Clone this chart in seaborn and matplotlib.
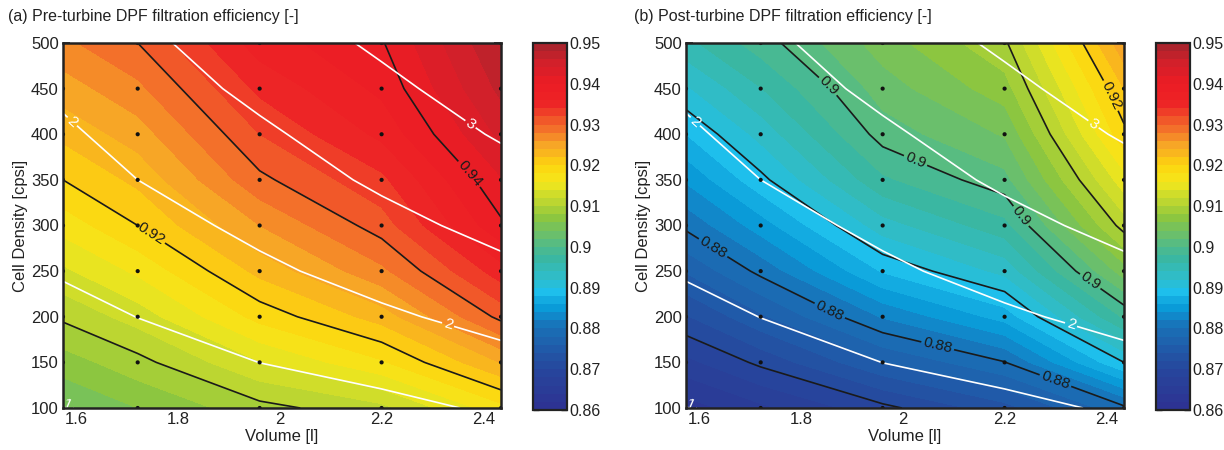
import numpy as np
import pandas as pd
import matplotlib
matplotlib.use("Agg")
import matplotlib.pyplot as plt
import seaborn as sns
from matplotlib.colors import LinearSegmentedColormap

# ---------------- data ----------------
volume = [1.573, 1.72, 1.96, 2.2, 2.435]                    # [l]
cell_density = [100, 150, 200, 250, 300, 350, 400, 450, 500]  # [cpsi]

# rows: cell density (100 -> 500), columns: volume
eff_pre = [
    [0.9040, 0.9060, 0.9093, 0.9114, 0.9173],
    [0.9070, 0.9093, 0.9139, 0.9177, 0.9241],
    [0.9104, 0.9129, 0.9187, 0.9229, 0.9306],
    [0.9136, 0.9164, 0.9226, 0.9275, 0.9351],
    [0.9168, 0.9200, 0.9260, 0.9310, 0.9396],
    [0.9200, 0.9225, 0.9295, 0.9335, 0.9418],
    [0.9225, 0.9250, 0.9320, 0.9365, 0.9445],
    [0.9250, 0.9275, 0.9345, 0.9385, 0.9465],
    [0.9275, 0.9300, 0.9370, 0.9398, 0.9480],
]
eff_post = [
    [0.8630, 0.8655, 0.8694, 0.8732, 0.8795],
    [0.8674, 0.8705, 0.8759, 0.8799, 0.8900],
    [0.8718, 0.8756, 0.8822, 0.8868, 0.8983],
    [0.8762, 0.8806, 0.8882, 0.8926, 0.9050],
    [0.8805, 0.8850, 0.8931, 0.8973, 0.9109],
    [0.8843, 0.8894, 0.8976, 0.9013, 0.9152],
    [0.8880, 0.8927, 0.9009, 0.9042, 0.9194],
    [0.8917, 0.8959, 0.9030, 0.9071, 0.9220],
    [0.8954, 0.8990, 0.9050, 0.9096, 0.9255],
]
# second quantity drawn as white iso-lines (same in both panels)
overlay_values = [
    [0.98, 1.12, 1.30, 1.385, 1.56],
    [1.18, 1.31, 1.502, 1.66, 1.87],
    [1.36, 1.505, 1.71, 1.93, 2.14],
    [1.54, 1.67, 1.92, 2.16, 2.40],
    [1.67, 1.83, 2.10, 2.37, 2.63],
    [1.80, 2.00, 2.27, 2.57, 2.84],
    [1.94, 2.13, 2.43, 2.74, 3.04],
    [2.07, 2.27, 2.60, 2.90, 3.22],
    [2.20, 2.40, 2.75, 3.07, 3.40],
]
overlay_plain = [1.5, 2.5]
overlay_labeled = [1.0, 2.0, 3.0]

pre_plain = [0.91, 0.93]
pre_labeled = [0.92, 0.94]
post_plain = [0.87, 0.89, 0.91]
post_labeled = [0.88, 0.90, 0.92]

cbar_ticks = [0.86, 0.87, 0.88, 0.89, 0.90, 0.91, 0.92, 0.93, 0.94, 0.95]
titles = ["(a) Pre-turbine DPF filtration efficiency [-]",
          "(b) Post-turbine DPF filtration efficiency [-]"]

# ---------------- style ----------------
sns.set_theme(style="ticks")
plt.rcParams["font.family"] = ["Liberation Sans", "DejaVu Sans"]
plt.rcParams["xtick.direction"] = "in"
plt.rcParams["ytick.direction"] = "in"

anchors = [
    (0.860, "#2e3192"), (0.870, "#26479d"), (0.880, "#1a6fb5"),
    (0.885, "#0a9ad8"), (0.889, "#1ec0ec"), (0.893, "#31bcc4"),
    (0.897, "#3ab7a2"), (0.902, "#60bd78"), (0.907, "#8dc63f"),
    (0.912, "#c5d92e"), (0.916, "#f4e81c"), (0.920, "#fdd40f"),
    (0.925, "#f7a526"), (0.929, "#f3722a"), (0.932, "#f04a29"),
    (0.935, "#ed2526"), (0.9405, "#ec1c24"), (0.945, "#d3202a"),
    (0.950, "#a5242c"),
]
vmin, vmax = 0.86, 0.95
cmap = LinearSegmentedColormap.from_list(
    "dpf", [((v - vmin) / (vmax - vmin), c) for v, c in anchors])
fill_levels = np.linspace(vmin, vmax, 46)

fig = plt.figure(figsize=(12.24, 4.5), dpi=100)

X, Y = np.meshgrid(volume, cell_density)
pts = pd.DataFrame({"Volume": X.ravel(), "Cell": Y.ravel()})


def px(x0, y0, x1, y1):
    return [x0 / 1224, 1 - y1 / 450, (x1 - x0) / 1224, (y1 - y0) / 450]


# label anchor points (snapped onto the nearest contour by clabel)
pre_black_lab = [(1.745, 290), (2.36, 350)]
post_black_lab = [(1.62, 270), (1.85, 200), (2.07, 172), (2.30, 130),
                  (1.84, 445), (2.02, 365), (2.22, 305), (2.37, 240),
                  (2.40, 440)]
white_lab = [(1.585, 410), (2.33, 190), (2.37, 407), (1.58, 101)]

panels = [
    (eff_pre, pre_plain, pre_labeled, pre_black_lab,
     px(63, 43, 501, 408), px(533, 43, 567, 410), 8),
    (eff_post, post_plain, post_labeled, post_black_lab,
     px(686, 43, 1124, 408), px(1156, 43, 1190, 410), 634),
]
fmt = lambda v: f"{v:g}"

for (Z, plain, lab, lab_pos, axpos, cpos, tx), title in zip(panels, titles):
    Z = np.array(Z)
    Wv = np.array(overlay_values)
    ax = fig.add_axes(axpos)
    cax = fig.add_axes(cpos)
    cf = ax.contourf(X, Y, Z, levels=fill_levels, cmap=cmap, vmin=vmin, vmax=vmax)
    ax.contour(X, Y, Z, levels=plain, colors="#1a1a1a", linewidths=1.2)
    cs = ax.contour(X, Y, Z, levels=lab, colors="#1a1a1a", linewidths=1.2)
    ax.clabel(cs, fmt=fmt, fontsize=11, inline=True, inline_spacing=2,
              manual=lab_pos)
    ax.contour(X, Y, Wv, levels=overlay_plain, colors="white", linewidths=1.2)
    ws = ax.contour(X, Y, Wv, levels=overlay_labeled, colors="white",
                    linewidths=1.2)
    ax.clabel(ws, fmt=fmt, fontsize=11, inline=True, inline_spacing=2,
              colors="white", manual=white_lab)
    sns.scatterplot(data=pts, x="Volume", y="Cell", ax=ax, color="#111111",
                    s=9, edgecolor="none", legend=False, zorder=5)
    ax.set_xlim(volume[0], volume[-1])
    ax.set_ylim(cell_density[0], cell_density[-1])
    ax.set_xticks([1.6, 1.8, 2.0, 2.2, 2.4])
    ax.set_xticklabels(["1.6", "1.8", "2", "2.2", "2.4"])
    ax.set_yticks(cell_density)
    ax.tick_params(direction="in", top=True, right=True, length=5, width=1.2,
                   labelsize=12, colors="#222222", pad=3)
    ax.set_xlabel("Volume [l]", fontsize=12, labelpad=1, color="#222222")
    ax.set_ylabel("Cell Density [cpsi]", fontsize=12, labelpad=2, color="#222222")
    for s in ax.spines.values():
        s.set_linewidth(1.8)
        s.set_color("#222222")
        s.set_zorder(10)

    cb = fig.colorbar(cf, cax=cax)
    cb.set_ticks(cbar_ticks)
    cb.set_ticklabels([f"{t:g}" for t in cbar_ticks])
    cax.tick_params(direction="in", left=True, right=True, length=4, width=1,
                    labelsize=11.5, colors="#222222", pad=2)
    cb.outline.set_linewidth(1.6)
    cb.outline.set_edgecolor("#222222")

    fig.text(tx / 1224, 1 - 17 / 450, title, fontsize=11.5, va="center",
             ha="left", color="#222222")

fig.savefig("out.png", dpi=100)
